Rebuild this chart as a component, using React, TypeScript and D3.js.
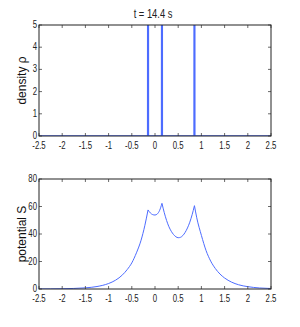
import * as d3 from 'd3'

// density rho: three point masses (spikes run off the top of the axes)
const rhoX = [-2.5, -0.16, -0.15, -0.14, 0.14, 0.15, 0.16, 0.84, 0.85, 0.86, 2.5]
const rhoY = [0, 0, 60, 0, 0, 60, 0, 0, 60, 0, 0]

// potential S (cusps at -0.15, 0.15, 0.85)
const sX = [
  -2.5, -2.25, -2, -1.75, -1.5, -1.25, -1, -0.85, -0.7, -0.6, -0.5, -0.4, -0.3, -0.22, -0.15,
  -0.1, -0.05, 0, 0.05, 0.1, 0.15,
  0.2, 0.25, 0.3, 0.35, 0.4, 0.45, 0.5, 0.55, 0.6, 0.65, 0.7, 0.75, 0.8, 0.85,
  0.9, 1.0, 1.1, 1.2, 1.3, 1.4, 1.5, 1.65, 1.8, 2.0, 2.25, 2.5,
]
const sY = [
  0.05, 0.1, 0.2, 0.4, 0.85, 1.8, 4.0, 6.4, 10.3, 14.1, 19.0, 26.3, 35.5, 46.0, 57.5,
  55.3, 54.1, 53.8, 54.6, 57.2, 62.3,
  55.5, 49.8, 45.3, 42.0, 39.6, 38.0, 37.3, 37.6, 38.9, 41.2, 44.4, 48.6, 54.0, 60.6,
  51.8, 39.0, 28.0, 20.3, 14.9, 10.9, 8.0, 5.0, 3.1, 1.7, 0.76, 0.35,
]
const cusps = [-0.15, 0.15, 0.85]

const xTicks = [-2.5, -2, -1.5, -1, -0.5, 0, 0.5, 1, 1.5, 2, 2.5]
const rhoTicks = [0, 1, 2, 3, 4, 5]
const sTicks = [0, 20, 40, 60, 80]

const W = 300
const H = 327
const left = 39
const right = 271
const font = 'Liberation Sans, Arial, sans-serif'
const lineColor = '#4d6cff'

// narrow Helvetica look: squeeze normal glyphs horizontally
function Narrow({ x, y, anchor, size, children }: { x: number; y: number; anchor: string; size: number; children: React.ReactNode }) {
  return (
    <text
      transform={`translate(${x},${y}) scale(0.78,1)`}
      textAnchor={anchor}
      fontSize={size}
      fontFamily={font}
      fill="#222"
    >
      {children}
    </text>
  )
}

interface PanelProps {
  id: string
  top: number
  bottom: number
  yMax: number
  yTicks: number[]
  label: string
  children: (x: d3.ScaleLinear<number, number>, y: d3.ScaleLinear<number, number>) => React.ReactNode
}

function Panel({ id, top, bottom, yMax, yTicks, label, children }: PanelProps) {
  const x = d3.scaleLinear().domain([-2.5, 2.5]).range([left, right])
  const y = d3.scaleLinear().domain([0, yMax]).range([bottom, top])
  const tl = 3
  return (
    <g>
      <defs>
        <clipPath id={id}>
          <rect x={left} y={top} width={right - left} height={bottom - top} />
        </clipPath>
      </defs>
      <g clipPath={`url(#${id})`}>{children(x, y)}</g>
      {/* inward ticks on all four sides */}
      {xTicks.map(t => (
        <g key={'x' + t}>
          <line x1={x(t)} x2={x(t)} y1={bottom} y2={bottom - tl} stroke="#444" strokeWidth={0.8} />
          <line x1={x(t)} x2={x(t)} y1={top} y2={top + tl} stroke="#444" strokeWidth={0.8} />
          <Narrow x={x(t)} y={bottom + 13} anchor="middle" size={10}>
            {t}
          </Narrow>
        </g>
      ))}
      {yTicks.map(t => (
        <g key={'y' + t}>
          <line x1={left} x2={left + tl} y1={y(t)} y2={y(t)} stroke="#444" strokeWidth={0.8} />
          <line x1={right} x2={right - tl} y1={y(t)} y2={y(t)} stroke="#444" strokeWidth={0.8} />
          <Narrow x={left - 2} y={y(t) + 3} anchor="end" size={10}>
            {t}
          </Narrow>
        </g>
      ))}
      <rect x={left} y={top} width={right - left} height={bottom - top} fill="none" stroke="#222" strokeWidth={1} />
      <text
        transform={`translate(26,${(top + bottom) / 2}) rotate(-90)`}
        textAnchor="middle"
        fontSize={12}
        fontFamily={font}
        fill="#111"
      >
        {label}
      </text>
    </g>
  )
}

export default function App() {
  const sPts = sX.map((v, i) => [v, sY[i]] as [number, number])
  // split the curve at the cusps so the peaks stay sharp
  const segs: [number, number][][] = []
  let cur: [number, number][] = []
  sPts.forEach(p => {
    cur.push(p)
    if (cusps.includes(p[0])) {
      segs.push(cur)
      cur = [p]
    }
  })
  segs.push(cur)

  return (
    <svg width={W} height={H} style={{ position: 'absolute', left: 0, top: 0, background: '#fff' }}>
      <Narrow x={153} y={18} anchor="middle" size={12}>
        t = 14.4 s
      </Narrow>
      <Panel id="c1" top={25} bottom={136} yMax={5} yTicks={rhoTicks} label="density ρ">
        {(x, y) => {
          const line = d3
            .line<number>()
            .x((_, i) => x(rhoX[i]))
            .y(d => y(d))
          return <path d={line(rhoY) || ''} fill="none" stroke={lineColor} strokeWidth={1.3} />
        }}
      </Panel>
      <Panel id="c2" top={179} bottom={289} yMax={80} yTicks={sTicks} label="potential S">
        {(x, y) => {
          const line = d3
            .line<[number, number]>()
            .x(d => x(d[0]))
            .y(d => y(d[1]))
            .curve(d3.curveMonotoneX)
          return segs.map((s, i) => (
            <path key={i} d={line(s) || ''} fill="none" stroke={lineColor} strokeWidth={1} />
          ))
        }}
      </Panel>
    </svg>
  )
}
